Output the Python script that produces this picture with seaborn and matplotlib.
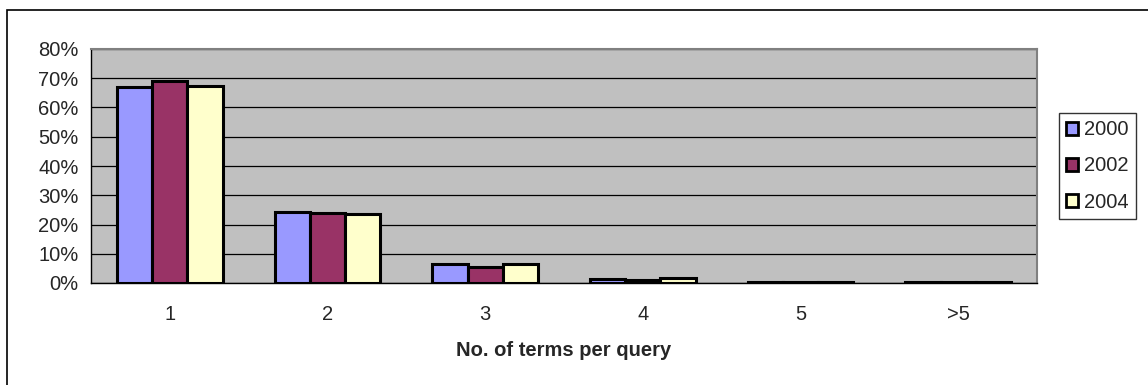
import numpy as np
import pandas as pd
import matplotlib
matplotlib.use("Agg")
import matplotlib.pyplot as plt
import seaborn as sns
from matplotlib.patches import Rectangle, Patch
from matplotlib.ticker import FixedLocator

# data (share of queries, %)
categories = ["1", "2", "3", "4", "5", ">5"]
years = ["2000", "2002", "2004"]
pct_2000 = [66.9, 24.2, 6.4, 1.4, 0.5, 0.2]
pct_2002 = [69.2, 24.0, 5.3, 1.0, 0.3, 0.2]
pct_2004 = [67.5, 23.5, 6.4, 1.6, 0.5, 0.2]
colors = ["#9999FF", "#993366", "#FFFFCC"]

df = pd.DataFrame({
    "terms": categories * 3,
    "year": [y for y in years for _ in categories],
    "share": pct_2000 + pct_2002 + pct_2004,
})

sns.set_style("white")
plt.rcParams["font.family"] = ["Liberation Sans", "DejaVu Sans"]
FS = 14.5

fig = plt.figure(figsize=(11.48, 3.85), dpi=100)
ax = fig.add_axes([91 / 1148, 1 - 283 / 385, (1037 - 91) / 1148, (283 - 49) / 385])

sns.barplot(data=df, x="terms", y="share", hue="year", order=categories,
            hue_order=years, palette=colors, width=0.67, gap=0,
            edgecolor="black", linewidth=2.2, saturation=1, ax=ax, legend=False)

ax.set_facecolor("#C0C0C0")
ax.set_xlim(-0.5, 5.5)
ax.set_ylim(0, 80)
ax.set_yticks(np.arange(0, 81, 10))
ax.set_yticklabels([f"{v}%" for v in range(0, 81, 10)], fontsize=FS)
ax.yaxis.grid(True, color="black", linewidth=0.9)
ax.set_axisbelow(True)

# category labels centred, tick marks at group boundaries
ax.set_xticks(range(len(categories)))
ax.set_xticklabels(categories, fontsize=FS)
ax.tick_params(axis="x", which="major", length=0, pad=16)
ax.xaxis.set_minor_locator(FixedLocator(np.arange(-0.5, 6, 1)))
ax.tick_params(axis="x", which="minor", length=6, width=1, color="black", direction="out")
ax.tick_params(axis="y", length=6, width=1, color="black", direction="out", pad=3)

for side in ["top", "right"]:
    ax.spines[side].set_color("#808080")
    ax.spines[side].set_linewidth(1.5)
for side in ["left", "bottom"]:
    ax.spines[side].set_color("black")
    ax.spines[side].set_linewidth(1.0)

ax.set_xlabel("No. of terms per query", fontsize=FS, fontweight="bold", labelpad=12)
ax.set_ylabel("")

handles = [Patch(facecolor=c, edgecolor="black", linewidth=2.0) for c in colors]
leg = fig.legend(handles, years, loc="center left",
                 bbox_to_anchor=(1059 / 1148, 1 - 166 / 385), fontsize=FS,
                 frameon=True, fancybox=False, handlelength=0.6, handleheight=0.6,
                 handletextpad=0.3, labelspacing=0.85, borderpad=0.35, borderaxespad=0)
leg.get_frame().set_edgecolor("black")
leg.get_frame().set_linewidth(1.0)

# outer chart-area frame (cut off on the right and bottom)
fig.patches.append(Rectangle((7 / 1148, -0.1), 1.2, 1.1 - 10 / 385,
                             transform=fig.transFigure, fill=False,
                             edgecolor="black", linewidth=1.2))

fig.savefig("out.png", dpi=100)
